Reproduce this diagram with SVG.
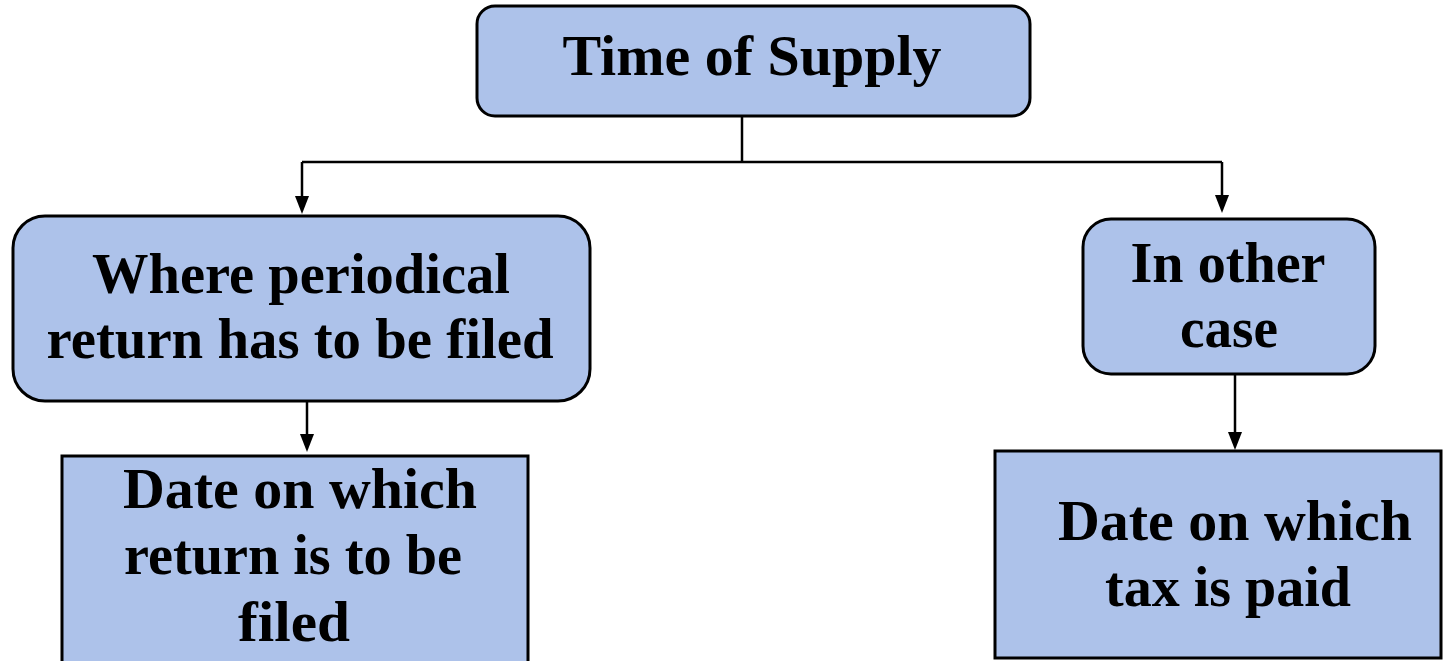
<svg xmlns="http://www.w3.org/2000/svg" width="1446" height="661" viewBox="0 0 1446 661">
<style>
.box{fill:#adc2ea;stroke:#000;stroke-width:3}
.t{font-family:"Liberation Serif",serif;font-weight:bold;font-size:56px;fill:#000;text-anchor:middle}
.c{stroke:#000;stroke-width:2.5;fill:none}
.ah{fill:#000}
</style>
<rect width="1446" height="661" fill="#fff"/>
<g id="connectors">
<path class="c" d="M742,116 V162"/>
<path class="c" d="M302,162 H1222"/>
<path class="c" d="M302,162 V198"/>
<path class="ah" d="M295,196 L309,196 L302,214 Z"/>
<path class="c" d="M1222,162 V197"/>
<path class="ah" d="M1215,195 L1229,195 L1222,213 Z"/>
<path class="c" d="M307,401 V436"/>
<path class="ah" d="M300,434 L314,434 L307,452 Z"/>
<path class="c" d="M1235,374 V434"/>
<path class="ah" d="M1228,432 L1242,432 L1235,450 Z"/>
</g>
<g id="time-of-supply">
<rect class="box" x="477" y="6" width="553" height="110" rx="18"/>
<text class="t" x="752" y="75" textLength="379" lengthAdjust="spacingAndGlyphs">Time of Supply</text>
</g>
<g id="periodical-return">
<rect class="box" x="13" y="216" width="577" height="185" rx="32"/>
<text class="t" x="301" y="293" textLength="418" lengthAdjust="spacingAndGlyphs">Where periodical</text>
<text class="t" x="300" y="358" textLength="507" lengthAdjust="spacingAndGlyphs">return has to be filed</text>
</g>
<g id="other-case">
<rect class="box" x="1083" y="219" width="292" height="155" rx="28"/>
<text class="t" x="1228" y="282" textLength="195" lengthAdjust="spacingAndGlyphs">In other</text>
<text class="t" x="1229" y="347" textLength="98" lengthAdjust="spacingAndGlyphs">case</text>
</g>
<g id="date-return">
<rect class="box" x="62" y="456" width="466" height="215"/>
<text class="t" x="300" y="508" textLength="354" lengthAdjust="spacingAndGlyphs">Date on which</text>
<text class="t" x="293" y="574" textLength="338" lengthAdjust="spacingAndGlyphs">return is to be</text>
<text class="t" x="294" y="641" textLength="112" lengthAdjust="spacingAndGlyphs">filed</text>
</g>
<g id="date-tax">
<rect class="box" x="995" y="451" width="446" height="207"/>
<text class="t" x="1235" y="540" textLength="354" lengthAdjust="spacingAndGlyphs">Date on which</text>
<text class="t" x="1228" y="606" textLength="246" lengthAdjust="spacingAndGlyphs">tax is paid</text>
</g>
</svg>
